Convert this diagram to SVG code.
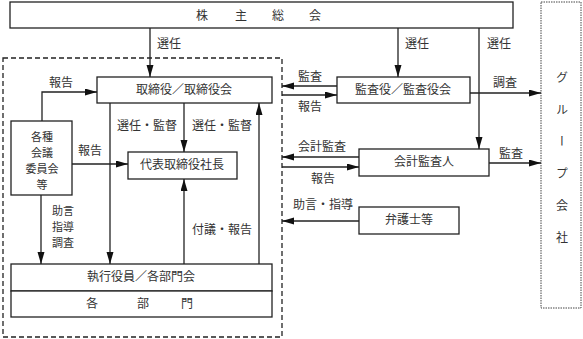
<svg xmlns="http://www.w3.org/2000/svg" width="583" height="339" viewBox="0 0 583 339">
<style>
.box{fill:#fff;stroke:#222;stroke-width:1.3}
.t{font-family:"Noto Sans CJK JP","Noto Sans CJK SC",sans-serif;font-size:12px;fill:#333;text-anchor:middle}
.l{font-family:"Noto Sans CJK JP","Noto Sans CJK SC",sans-serif;font-size:12px;fill:#333}
.s{font-size:11px}
.c{fill:none;stroke:#222;stroke-width:1.3}
</style>
<defs>
<marker id="ah" markerUnits="userSpaceOnUse" markerWidth="12" markerHeight="8" refX="12" refY="3.5" orient="auto">
<path d="M0,0 L12,3.5 L0,7 z" fill="#111"/>
</marker>
</defs>
<rect x="0" y="0" width="583" height="339" fill="#fff"/>
<g id="company-boundary">
<rect x="3" y="58" width="279" height="279" fill="none" stroke="#222" stroke-width="1.3" stroke-dasharray="5,3"/>
</g>
<g id="group">
<rect x="541" y="2" width="40" height="306" fill="none" stroke="#444" stroke-width="1" stroke-dasharray="1.5,1"/>
<text class="l" x="562" y="71" style="writing-mode:vertical-rl;letter-spacing:20px">グループ会社</text>
</g>
<g id="shareholders">
<rect class="box" x="10" y="2" width="503" height="26"/>
<text class="t" x="202" y="20">株</text>
<text class="t" x="241" y="20">主</text>
<text class="t" x="278" y="20">総</text>
<text class="t" x="315" y="20">会</text>
</g>
<g id="board">
<rect class="box" x="97" y="77" width="175" height="26"/>
<text class="t" x="184" y="94">取締役／取締役会</text>
</g>
<g id="president">
<rect class="box" x="128" y="152" width="109" height="27"/>
<text class="t" x="182" y="169">代表取締役社長</text>
</g>
<g id="committees">
<rect class="box" x="11" y="121" width="61" height="74"/>
<text class="t s" x="42" y="141">各種</text>
<text class="t s" x="42" y="157">会議</text>
<text class="t s" x="42" y="173">委員会</text>
<text class="t s" x="42" y="189">等</text>
</g>
<g id="officers">
<rect class="box" x="11" y="264" width="261" height="27"/>
<text class="t" x="141" y="281">執行役員／各部門会</text>
</g>
<g id="departments">
<rect class="box" x="11" y="291" width="261" height="26"/>
<text class="t" x="92" y="308">各</text>
<text class="t" x="143" y="308">部</text>
<text class="t" x="187" y="308">門</text>
</g>
<g id="auditors">
<rect class="box" x="337" y="77" width="133" height="26"/>
<text class="t" x="403" y="94">監査役／監査役会</text>
</g>
<g id="accounting-auditor">
<rect class="box" x="359" y="149" width="130" height="27"/>
<text class="t" x="424" y="166">会計監査人</text>
</g>
<g id="lawyers">
<rect class="box" x="359" y="207" width="100" height="27"/>
<text class="t" x="409" y="224">弁護士等</text>
</g>
<g id="connectors">
<path class="c" d="M150,28 V77" marker-end="url(#ah)"/>
<path class="c" d="M398,28 V77" marker-end="url(#ah)"/>
<path class="c" d="M479,28 V149" marker-end="url(#ah)"/>
<path class="c" d="M42,121 V92 H97" marker-end="url(#ah)"/>
<path class="c" d="M72,164 H128" marker-end="url(#ah)"/>
<path class="c" d="M184,103 V152" marker-end="url(#ah)"/>
<path class="c" d="M110,103 V264" marker-end="url(#ah)"/>
<path class="c" d="M259,264 V103" marker-end="url(#ah)"/>
<path class="c" d="M184,264 V179" marker-end="url(#ah)"/>
<path class="c" d="M41,195 V264" marker-end="url(#ah)"/>
<path class="c" d="M337,86 H282" marker-end="url(#ah)"/>
<path class="c" d="M282,95 H337" marker-end="url(#ah)"/>
<path class="c" d="M470,93 H541" marker-end="url(#ah)"/>
<path class="c" d="M359,157 H282" marker-end="url(#ah)"/>
<path class="c" d="M282,167 H359" marker-end="url(#ah)"/>
<path class="c" d="M489,163 H541" marker-end="url(#ah)"/>
<path class="c" d="M359,221 H282" marker-end="url(#ah)"/>
<text class="l" x="157" y="48">選任</text>
<text class="l" x="405" y="48">選任</text>
<text class="l" x="487" y="48">選任</text>
<text class="t" x="61" y="87">報告</text>
<text class="t" x="90" y="155">報告</text>
<text class="t" x="147" y="130">選任・監督</text>
<text class="t" x="222" y="130">選任・監督</text>
<text class="t" x="222" y="234">付議・報告</text>
<text class="l s" x="52" y="215">助言</text>
<text class="l s" x="52" y="231">指導</text>
<text class="l s" x="52" y="247">調査</text>
<text class="t" x="310" y="81">監査</text>
<text class="t" x="310" y="111">報告</text>
<text class="t" x="505" y="87">調査</text>
<text class="t" x="322" y="151">会計監査</text>
<text class="t" x="323" y="183">報告</text>
<text class="t" x="511" y="158">監査</text>
<text class="t" x="323" y="209">助言・指導</text>
</g>
</svg>
